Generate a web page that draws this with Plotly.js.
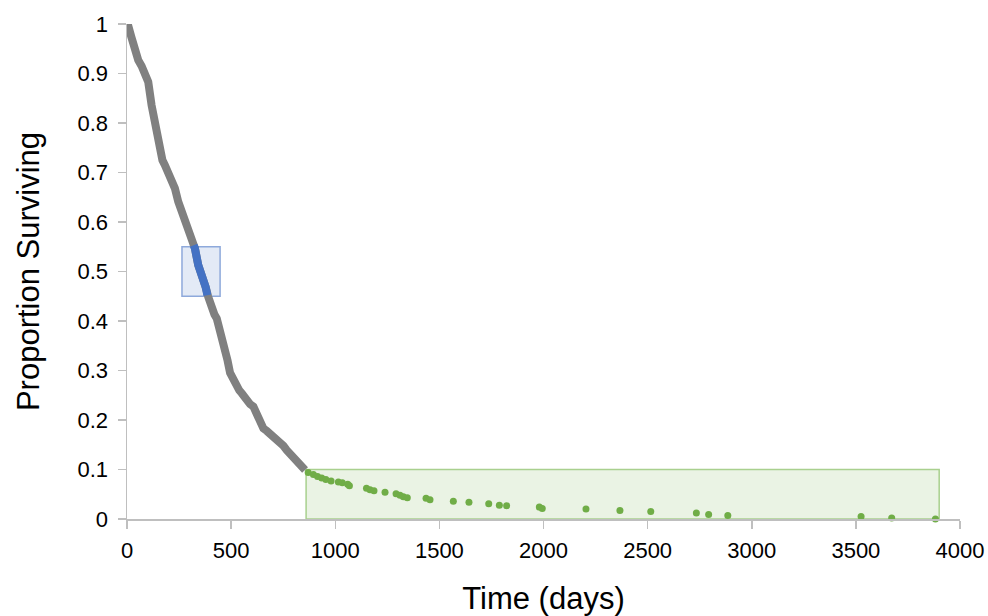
<!DOCTYPE html>
<html>
<head>
<meta charset="utf-8">
<script src="https://cdn.plot.ly/plotly-3.0.1.min.js"></script>
<style>html,body{margin:0;padding:0;background:#fff;}#chart{width:988px;height:616px;}</style>
</head>
<body>
<div id="chart"></div>
<script>
// Gray survival curve (days, proportion)
var grayTime = [0,5,20,38,54,70,86,102,118,134,150,158,170,182,196,211,230,246,258,270,282,294,306,318,326,342,354,366,378,390,400,407,420,431,440,447,459,471,483,495,511,527,539,551,563,575,591,607,619,631,643,655,671,687,711,735,751,767,783,799,815,831,845,855];
var graySurv = [1.0,0.998,0.975,0.944,0.927,0.915,0.900,0.883,0.836,0.803,0.769,0.740,0.725,0.715,0.703,0.692,0.668,0.641,0.628,0.614,0.600,0.587,0.573,0.560,0.547,0.513,0.500,0.486,0.468,0.449,0.435,0.422,0.413,0.405,0.392,0.378,0.358,0.338,0.320,0.295,0.280,0.267,0.260,0.254,0.245,0.237,0.232,0.227,0.215,0.203,0.193,0.183,0.178,0.173,0.165,0.156,0.148,0.139,0.132,0.126,0.118,0.109,0.103,0.099];

// Blue highlighted median segment
var blueTime = [320,326,342,354,366,378,386];
var blueSurv = [0.553,0.547,0.513,0.500,0.486,0.468,0.452];

// Green tail points
var greenTime = [870,895,915,935,955,980,1015,1034,1060,1068,1150,1167,1186,1239,1292,1311,1327,1346,1436,1455,1567,1642,1737,1788,1823,1980,1994,2204,2367,2515,2734,2793,2885,3525,3672,3882];
var greenSurv = [0.094,0.090,0.086,0.083,0.080,0.077,0.075,0.073,0.070,0.067,0.062,0.059,0.057,0.054,0.051,0.048,0.045,0.043,0.042,0.039,0.036,0.034,0.031,0.028,0.027,0.024,0.021,0.020,0.017,0.015,0.012,0.009,0.007,0.005,0.002,0.0];

// Highlight boxes [x0, x1, y0, y1]
var blueBox = [264, 447, 0.45, 0.55];
var greenBox = [860, 3900, 0, 0.1];

var xTicks = [0,500,1000,1500,2000,2500,3000,3500,4000];
var yTicks = [0,0.1,0.2,0.3,0.4,0.5,0.6,0.7,0.8,0.9,1];
var yTickText = ['0','0.1','0.2','0.3','0.4','0.5','0.6','0.7','0.8','0.9','1'];

var traces = [
  {x: grayTime, y: graySurv, type: 'scatter', mode: 'lines', line: {color: 'rgb(128,128,128)', width: 8}, cliponaxis: false, hoverinfo: 'skip'},
  {x: blueTime, y: blueSurv, type: 'scatter', mode: 'lines', line: {color: 'rgb(68,114,196)', width: 8}, cliponaxis: false, hoverinfo: 'skip'},
  {x: greenTime, y: greenSurv, type: 'scatter', mode: 'markers', marker: {color: 'rgb(112,173,71)', size: 7}, cliponaxis: false, hoverinfo: 'skip'}
];

var layout = {
  width: 988, height: 616,
  margin: {l: 127, r: 28, t: 24, b: 97},
  paper_bgcolor: '#fff', plot_bgcolor: '#fff',
  showlegend: false,
  font: {family: 'Liberation Sans, Arial, sans-serif', color: '#000'},
  xaxis: {
    range: [0, 4000], tickvals: xTicks, showgrid: false, zeroline: false,
    showline: true, linecolor: 'rgb(191,191,191)', linewidth: 1.5,
    ticks: 'outside', ticklen: 8, tickcolor: 'rgb(191,191,191)', tickwidth: 1.5,
    ticklabelstandoff: 3,
    tickfont: {size: 22}, title: {text: 'Time (days)', font: {size: 31}, standoff: 28}
  },
  yaxis: {
    range: [0, 1], tickvals: yTicks, ticktext: yTickText, showgrid: false, zeroline: false,
    showline: true, linecolor: 'rgb(191,191,191)', linewidth: 1.5,
    ticks: 'outside', ticklen: 8, tickcolor: 'rgb(191,191,191)', tickwidth: 1.5,
    ticklabelstandoff: 5,
    tickfont: {size: 22}, title: {text: 'Proportion Surviving', font: {size: 31}, standoff: 28}
  },
  shapes: [
    {type: 'rect', xref: 'x', yref: 'y', x0: blueBox[0], x1: blueBox[1], y0: blueBox[2], y1: blueBox[3],
     fillcolor: 'rgba(68,114,196,0.15)', line: {color: 'rgb(142,169,219)', width: 1.5}, layer: 'below'},
    {type: 'rect', xref: 'x', yref: 'y', x0: greenBox[0], x1: greenBox[1], y0: greenBox[2], y1: greenBox[3],
     fillcolor: 'rgba(112,173,71,0.15)', line: {color: 'rgb(169,208,142)', width: 1.5}, layer: 'below'}
  ]
};

Plotly.newPlot('chart', traces, layout, {displayModeBar: false, staticPlot: true});
</script>
</body>
</html>
